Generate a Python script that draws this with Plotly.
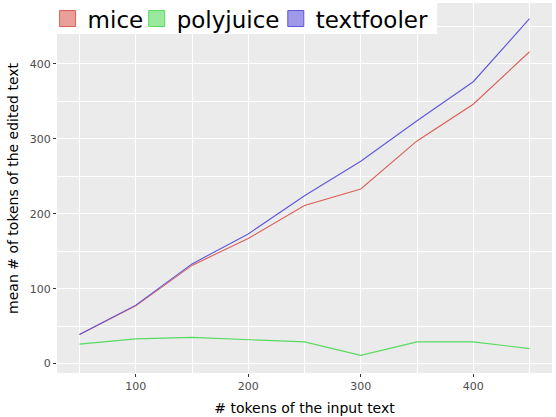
import plotly.graph_objects as go

# tokens in the input text
tokens = [50, 100, 150, 200, 250, 300, 350, 400, 450]

# mean tokens of the edited text, per method
mice = [39, 77, 131, 167, 211, 233, 297, 346, 416]
polyjuice = [26, 33, 35, 32, 29, 11, 29, 29, 20]
textfooler = [39, 78, 133, 173, 224, 270, 324, 376, 460]

methods = ["mice", "polyjuice", "textfooler"]
series = [mice, polyjuice, textfooler]
colors = ["#DB5F57", "#57DB5E", "#5E57DB"]
fills = ["rgba(219,95,87,0.6)", "rgba(87,219,94,0.6)", "rgba(94,87,219,0.6)"]

# each legend entry gets its own legend so the spacing can match ggplot
legend_ids = ["legend", "legend2", "legend3"]
legend_x = [-0.019, 0.161, 0.442]

fig = go.Figure()
for name, y, c in zip(methods, series, colors):
    fig.add_trace(go.Scatter(x=tokens, y=y, mode="lines", name=name,
                             line=dict(color=c, width=1.1), showlegend=False))

# legend keys (the marker itself sits off-canvas)
offscreen = -1000
for name, c, f, lg in zip(methods, colors, fills, legend_ids):
    fig.add_trace(go.Scatter(x=[offscreen], y=[offscreen], mode="markers", name=name,
                             marker=dict(symbol="square", size=16, color=f,
                                         line=dict(color=c, width=1)),
                             showlegend=True, legend=lg))

axis_common = dict(
    showgrid=True, gridcolor="white", gridwidth=1.2,
    ticks="outside", ticklen=3, tickcolor="#333333",
    tickfont=dict(size=11, color="#4D4D4D"),
    zeroline=False, showline=False, automargin=False,
    title_font=dict(size=14, color="black"),
)

fig.update_xaxes(type="linear", range=[30, 470], tickvals=[100, 200, 300, 400],
                 minor=dict(tickvals=[50, 150, 250, 350, 450], showgrid=True,
                            gridcolor="white", gridwidth=0.5, ticks=""),
                 title_text="# tokens of the input text", title_standoff=10,
                 **axis_common)
fig.update_yaxes(type="linear", range=[-12.5, 481], tickvals=[0, 100, 200, 300, 400],
                 minor=dict(tickvals=[50, 150, 250, 350, 450], showgrid=True,
                            gridcolor="white", gridwidth=0.5, ticks=""),
                 **axis_common)

# y title as an annotation so it can sit closer to the page edge
fig.add_annotation(text="mean # of tokens of the edited text", textangle=-90,
                   xref="paper", yref="paper", x=-0.089, y=0.5,
                   xanchor="center", yanchor="middle", showarrow=False,
                   font=dict(size=14, color="black"))

# white legend background box
fig.add_shape(type="rect", xref="paper", yref="paper", x0=0, x1=0.768,
              y0=0.916, y1=1, fillcolor="white", line_width=0, layer="above")

legend_style = dict(y=1.016, xanchor="left", yanchor="top", orientation="h",
                    bgcolor="rgba(0,0,0,0)", font=dict(size=23), itemwidth=30)
fig.update_layout(
    width=556, height=417,
    margin=dict(l=57, r=4, t=3, b=44, autoexpand=False),
    paper_bgcolor="white", plot_bgcolor="#EBEBEB",
    font=dict(family="DejaVu Sans", color="black"),
    showlegend=True,
    legend=dict(x=legend_x[0], **legend_style),
    legend2=dict(x=legend_x[1], **legend_style),
    legend3=dict(x=legend_x[2], **legend_style),
)

fig.write_html("out.html", config={"displayModeBar": False},
               post_script="document.body.style.margin='0';")
